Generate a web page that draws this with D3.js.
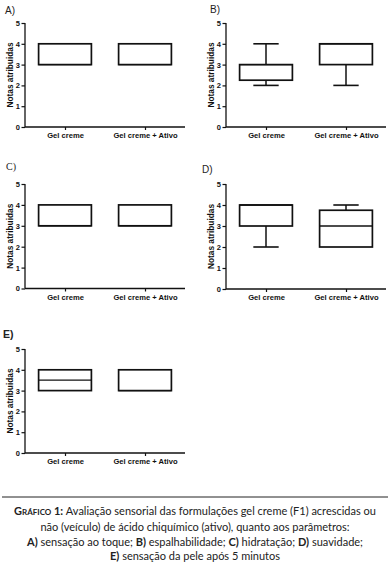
<!DOCTYPE html>
<html><head><meta charset="utf-8">
<script src="https://cdn.jsdelivr.net/npm/d3@7"></script>
<style>html,body{margin:0;padding:0;background:#fff;}svg{display:block;}</style>
</head><body>
<script>
const categories = ["Gel creme", "Gel creme + Ativo"];
const panelLabels = ["A)", "B)", "C)", "D)", "E)"];
const yTicks = [0, 1, 2, 3, 4, 5];
// per panel, per category
const whiskerMin = [[3, 3], [2, 2], [3, 3], [2, 2], [3, 3]];
const q1 =         [[3, 3], [2.25, 3], [3, 3], [3, 2], [3, 3]];
const median =     [[3, 3], [3, 4], [3, 3], [4, 3], [3.5, 3]];
const q3 =         [[4, 4], [3, 4], [4, 4], [4, 3.75], [4, 4]];
const whiskerMax = [[4, 4], [4, 4], [4, 4], [4, 4], [4, 4]];
const yTitle = "Notas atribuidas";

const W = 390, H = 568;
const svg = d3.select("body").append("svg").attr("width", W).attr("height", H);

// layout per panel: axis x, top (y=5), bottom (y=0)
const layout = [
  {x0: 25, x1: 185, top: 23, bottom: 127, lx: 5, ly: 13.5, serif: false},
  {x0: 226, x1: 386, top: 23, bottom: 127, lx: 210, ly: 12.5, serif: false},
  {x0: 25, x1: 185, top: 184, bottom: 288.5, lx: 6, ly: 170, serif: true},
  {x0: 226, x1: 386, top: 184, bottom: 289, lx: 202, ly: 173, serif: false},
  {x0: 25, x1: 185, top: 349, bottom: 453, lx: 3, ly: 338, serif: false}
];

const sans = "'Liberation Sans', Arial, sans-serif";

layout.forEach((L, p) => {
  const g = svg.append("g");
  const y = d3.scaleLinear().domain([0, 5]).range([L.bottom, L.top]);
  const x = d3.scalePoint().domain(categories).range([L.x0, L.x1]).padding(0.5);
  const step = x.step();
  const bw = step * 0.66;
  const cw = bw * 0.48;

  // y axis
  const ya = g.append("g").attr("transform", `translate(${L.x0},0)`)
    .call(d3.axisLeft(y).tickValues(yTicks).tickFormat(d3.format("d")).tickSize(3.5).tickPadding(1.5));
  ya.select(".domain").attr("stroke", "#111").attr("stroke-width", 1.3).attr("d", `M0,${L.bottom}V${L.top}`);
  ya.selectAll(".tick line").attr("stroke", "#111").attr("stroke-width", 1.2);
  ya.selectAll(".tick text").attr("font-family", sans).attr("font-weight", "bold").attr("font-size", 7.5).attr("fill", "#111");

  // x axis
  const xa = g.append("g").attr("transform", `translate(0,${L.bottom})`)
    .call(d3.axisBottom(x).tickSize(3).tickPadding(3));
  xa.select(".domain").attr("stroke", "#111").attr("stroke-width", 1.3).attr("d", `M${L.x0},0H${L.x1}`);
  xa.selectAll(".tick line").attr("stroke", "#111").attr("stroke-width", 1.2);
  xa.selectAll(".tick text").attr("font-family", sans).attr("font-weight", "bold").attr("font-size", 7.6).attr("fill", "#111");

  // y title
  g.append("text")
    .attr("transform", `translate(${L.x0 - 12.5},${(L.top + L.bottom) / 2}) rotate(-90)`)
    .attr("text-anchor", "middle")
    .attr("font-family", sans).attr("font-weight", "bold").attr("font-size", 8.3).attr("fill", "#111")
    .text(yTitle);

  // panel label
  g.append("text").attr("x", L.lx).attr("y", L.ly)
    .attr("font-family", L.serif ? "'Liberation Serif', serif" : sans)
    .attr("font-size", p === 4 ? 10.5 : 10).attr("font-weight", p === 4 ? "bold" : "normal").attr("fill", "#222")
    .text(panelLabels[p]);

  // boxes
  categories.forEach((c, i) => {
    const cx = x(c);
    const stroke = "#111";
    // whiskers
    if (whiskerMax[p][i] > q3[p][i]) {
      g.append("line").attr("x1", cx).attr("x2", cx).attr("y1", y(q3[p][i])).attr("y2", y(whiskerMax[p][i])).attr("stroke", stroke).attr("stroke-width", 1.5);
      g.append("line").attr("x1", cx - cw / 2).attr("x2", cx + cw / 2).attr("y1", y(whiskerMax[p][i])).attr("y2", y(whiskerMax[p][i])).attr("stroke", stroke).attr("stroke-width", 1.6);
    }
    if (whiskerMin[p][i] < q1[p][i]) {
      g.append("line").attr("x1", cx).attr("x2", cx).attr("y1", y(q1[p][i])).attr("y2", y(whiskerMin[p][i])).attr("stroke", stroke).attr("stroke-width", 1.5);
      g.append("line").attr("x1", cx - cw / 2).attr("x2", cx + cw / 2).attr("y1", y(whiskerMin[p][i])).attr("y2", y(whiskerMin[p][i])).attr("stroke", stroke).attr("stroke-width", 1.6);
    }
    g.append("rect").attr("x", cx - bw / 2).attr("width", bw)
      .attr("y", y(q3[p][i])).attr("height", y(q1[p][i]) - y(q3[p][i]))
      .attr("fill", "#fff").attr("stroke", stroke).attr("stroke-width", 1.7);
    g.append("line").attr("x1", cx - bw / 2).attr("x2", cx + bw / 2)
      .attr("y1", y(median[p][i])).attr("y2", y(median[p][i]))
      .attr("stroke", stroke).attr("stroke-width", 1.3);
  });
});

// caption
svg.append("line").attr("x1", 2).attr("x2", 388).attr("y1", 497).attr("y2", 497).attr("stroke", "#222").attr("stroke-width", 1);
const capFont = "Lato, 'Open Sans', sans-serif";
const cap = svg.append("g").attr("font-family", capFont).attr("font-size", 11).attr("fill", "#222").attr("text-anchor", "middle");
const l1 = cap.append("text").attr("x", 195).attr("y", 514.5);
l1.append("tspan").attr("font-weight", "bold").attr("font-variant", "small-caps").text("Gráfico 1: ");
l1.append("tspan").text("Avaliação sensorial das formulações gel creme (F1) acrescidas ou");
cap.append("text").attr("x", 195).attr("y", 531).text("não (veículo) de ácido chiquímico (ativo), quanto aos parâmetros:");
const l3 = cap.append("text").attr("x", 195).attr("y", 545.5);
[["A)", true], [" sensação ao toque; ", false], ["B)", true], [" espalhabilidade; ", false], ["C)", true], [" hidratação; ", false], ["D)", true], [" suavidade;", false]]
  .forEach(([t, b]) => l3.append("tspan").attr("font-weight", b ? "bold" : "normal").text(t));
const l4 = cap.append("text").attr("x", 195).attr("y", 560);
l4.append("tspan").attr("font-weight", "bold").text("E)");
l4.append("tspan").text(" sensação da pele após 5 minutos");
</script>
</body></html>
